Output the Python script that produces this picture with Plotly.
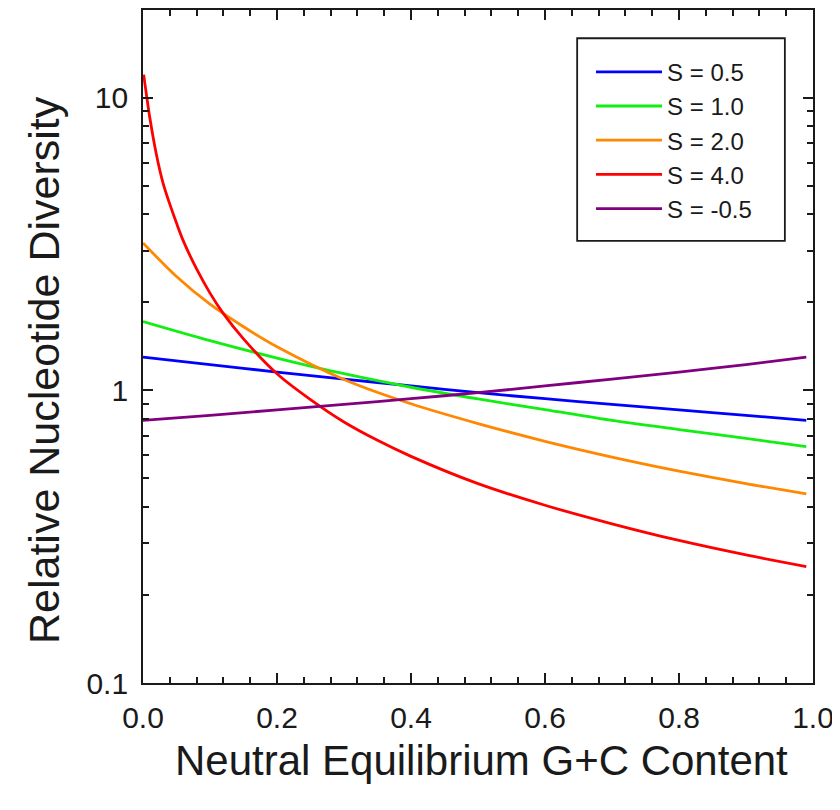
import plotly.graph_objects as go

# ---- data ----
x_grid = [0.0, 0.1, 0.2, 0.3, 0.4, 0.5, 0.6, 0.7, 0.8, 0.9, 0.99]

s05_vals = [1.30, 1.225, 1.155, 1.093, 1.036, 0.982, 0.937, 0.896, 0.858, 0.822, 0.79]
s10_vals = [1.72, 1.48, 1.29, 1.14, 1.025, 0.935, 0.86, 0.79, 0.735, 0.685, 0.642]
s20_x = [0.0, 0.05, 0.1, 0.15, 0.2, 0.3, 0.4, 0.5, 0.6, 0.7, 0.8, 0.9, 0.99]
s20_vals = [3.19, 2.45, 1.97, 1.65, 1.41, 1.09, 0.90, 0.77, 0.67, 0.592, 0.53, 0.48, 0.443]
s40_x = [0.001, 0.01, 0.02, 0.03, 0.04, 0.05, 0.06, 0.08, 0.10, 0.12, 0.15, 0.2,
         0.25, 0.3, 0.35, 0.4, 0.5, 0.6, 0.7, 0.8, 0.9, 0.99]
s40_vals = [12.0, 8.6, 6.4, 5.1, 4.33, 3.73, 3.25, 2.6, 2.15, 1.83, 1.5, 1.14,
            0.93, 0.78, 0.675, 0.595, 0.48, 0.405, 0.35, 0.307, 0.274, 0.25]
sm05_vals = [0.79, 0.822, 0.858, 0.896, 0.937, 0.982, 1.036, 1.093, 1.155, 1.225, 1.30]

series_names = ["S = 0.5", "S = 1.0", "S = 2.0", "S = 4.0", "S = -0.5"]
series_colors = ["#0000FF", "#11EE11", "#FF8800", "#FF0000", "#800080"]

x_tickvals = [0.0, 0.2, 0.4, 0.6, 0.8, 1.0]
x_ticktext = ["0.0", "0.2", "0.4", "0.6", "0.8", "1.0"]
y_tickvals = [0.1, 1, 10]
y_ticktext = ["0.1", "1", "10"]
y_minor = [0.2, 0.3, 0.4, 0.5, 0.6, 0.7, 0.8, 0.9, 2, 3, 4, 5, 6, 7, 8, 9]

x_title = "Neutral Equilibrium G+C Content"
y_title = "Relative Nucleotide Diversity"

series_x = [x_grid, x_grid, s20_x, s40_x, x_grid]
series_y = [s05_vals, s10_vals, s20_vals, s40_vals, sm05_vals]

FONT = "Liberation Sans, Arial, Helvetica, sans-serif"
INK = "#1a1a1a"

fig = go.Figure()
for name, color, xs, ys in zip(series_names, series_colors, series_x, series_y):
    fig.add_trace(go.Scatter(
        x=xs, y=ys, name=name, mode="lines",
        line=dict(color=color, width=2.8, shape="spline", smoothing=0.8),
    ))

axis_common = dict(
    showline=True, linecolor=INK, linewidth=1.8, mirror="allticks",
    ticks="inside", ticklen=10, tickwidth=1.6, tickcolor=INK,
    showgrid=False, zeroline=False, automargin=False,
    tickfont=dict(family=FONT, size=30, color=INK),
)

# the page body has an 8px default margin, so margins are offset by 8px
fig.update_layout(
    template="none",
    width=840, height=810,
    paper_bgcolor="white", plot_bgcolor="white",
    margin=dict(l=135, r=35, t=2, b=135),
    font=dict(family=FONT, color=INK),
    showlegend=True,
    legend=dict(
        x=0.6687, y=0.941, xanchor="left", yanchor="top",
        bgcolor="rgba(0,0,0,0)", borderwidth=0,
        font=dict(family=FONT, size=24, color=INK),
        itemwidth=66, tracegroupgap=0,
    ),
    shapes=[dict(type="rect", xref="paper", yref="paper",
                 x0=0.648, x1=0.958, y0=0.657, y1=0.958,
                 line=dict(color=INK, width=1.8), fillcolor="rgba(0,0,0,0)")],
    annotations=[
        dict(text=x_title, xref="paper", yref="paper", x=0.5045, y=-0.1145,
             xanchor="center", yanchor="middle", showarrow=False,
             font=dict(family=FONT, size=42, color=INK)),
        dict(text=y_title, xref="paper", yref="paper", x=-0.1478, y=0.465,
             xanchor="center", yanchor="middle", showarrow=False, textangle=-90,
             font=dict(family=FONT, size=43, color=INK)),
    ],
)

fig.update_xaxes(
    range=[0, 1], tickmode="array", tickvals=x_tickvals, ticktext=x_ticktext,
    minor=dict(ticks="inside", dtick=0.04, tick0=0, ticklen=6, tickwidth=1.6,
               tickcolor=INK),
    ticklabelstandoff=7,
    **axis_common,
)
fig.update_yaxes(
    type="log", range=[-1, 1.3], tickmode="array",
    tickvals=y_tickvals, ticktext=y_ticktext,
    minor=dict(ticks="inside", tickmode="array", tickvals=y_minor, ticklen=6,
               tickwidth=1.6, tickcolor=INK),
    ticklabelstandoff=7,
    **axis_common,
)

fig.write_html("out.html")
